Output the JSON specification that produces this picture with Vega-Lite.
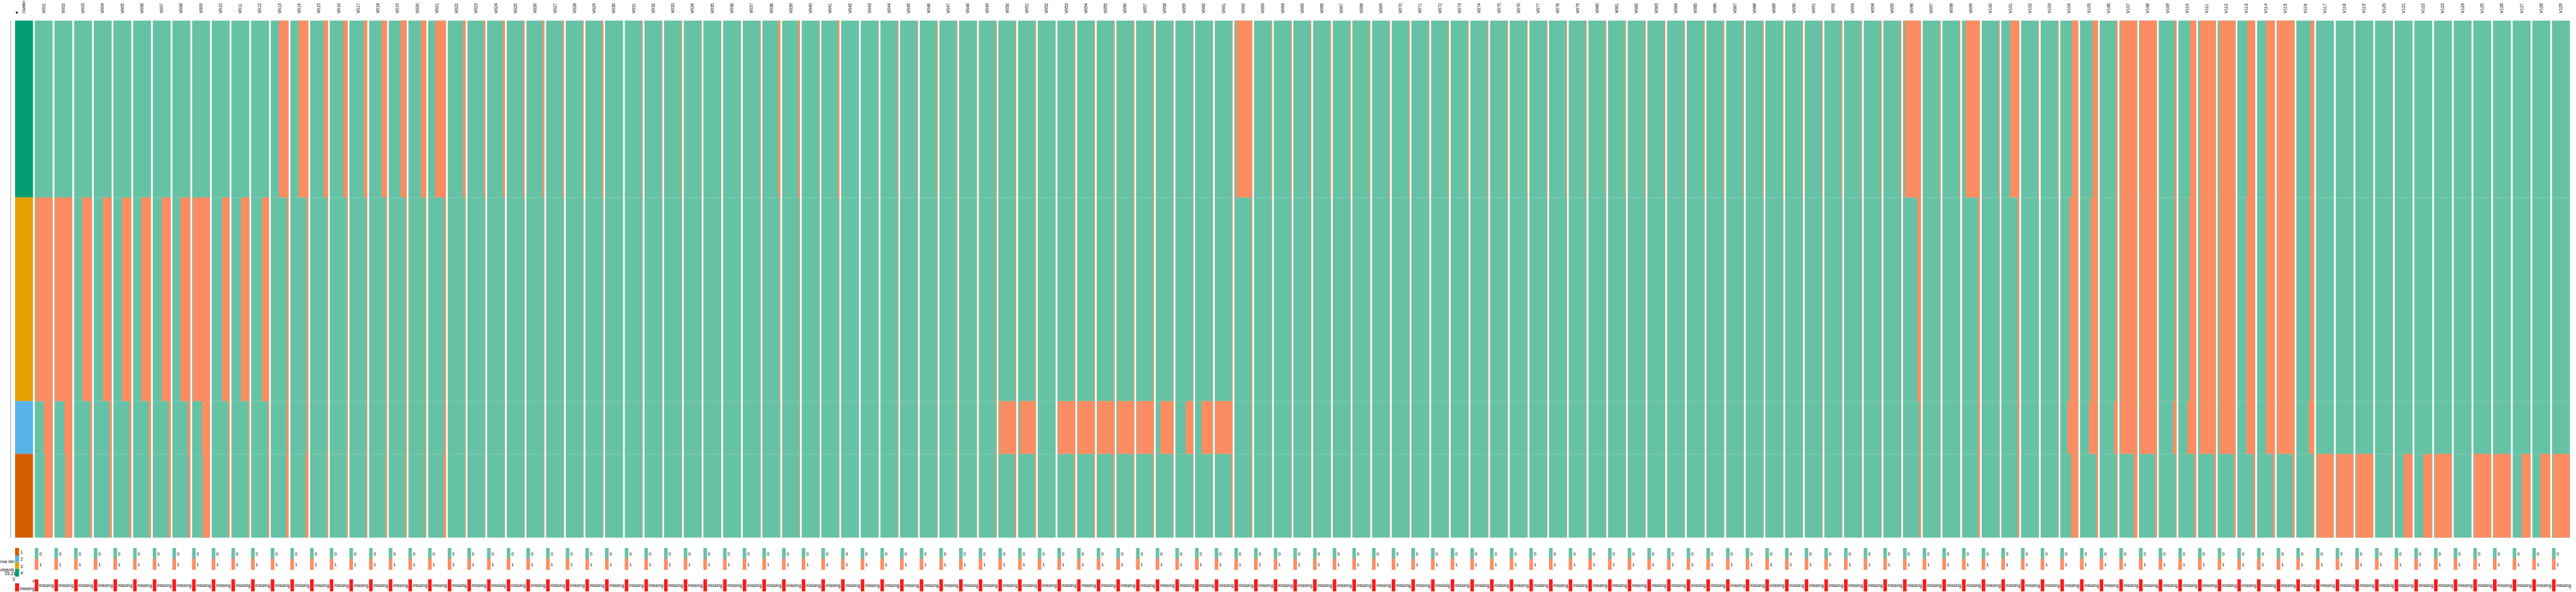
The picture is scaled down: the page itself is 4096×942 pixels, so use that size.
{
"$schema":"https://vega.github.io/schema/vega-lite/v6.json",
"padding":0,
"background":"white",
"bounds":"flush",
"config":{"view":{"stroke":null},"text":{"font":"Liberation Sans","fontSize":7,"color":"#000"}},
"datasets":{
"bounds":[{"c":4,"y0":0,"y1":34.2},{"c":3,"y0":34.2,"y1":73.6},{"c":2,"y0":73.6,"y1":83.8},{"c":1,"y0":83.8,"y1":100}],
"vars":[
{"v":"cluster","i":0,"c":4,"g":1},{"v":"cluster","i":0,"c":3,"g":1},{"v":"cluster","i":0,"c":2,"g":1},{"v":"cluster","i":0,"c":1,"g":1},
{"v":"V001","i":1,"c":4,"g":1},{"v":"V001","i":1,"c":3,"g":0.03},{"v":"V001","i":1,"c":2,"g":0.5},{"v":"V001","i":1,"c":1,"g":0.55},
{"v":"V002","i":2,"c":4,"g":1},{"v":"V002","i":2,"c":3,"g":0.03},{"v":"V002","i":2,"c":2,"g":0.55},{"v":"V002","i":2,"c":1,"g":0.6},
{"v":"V003","i":3,"c":4,"g":1},{"v":"V003","i":3,"c":3,"g":0.45},{"v":"V003","i":3,"c":2,"g":0.9},{"v":"V003","i":3,"c":1,"g":0.9},
{"v":"V004","i":4,"c":4,"g":1},{"v":"V004","i":4,"c":3,"g":0.5},{"v":"V004","i":4,"c":2,"g":0.88},{"v":"V004","i":4,"c":1,"g":0.88},
{"v":"V005","i":5,"c":4,"g":1},{"v":"V005","i":5,"c":3,"g":0.48},{"v":"V005","i":5,"c":2,"g":0.9},{"v":"V005","i":5,"c":1,"g":0.9},
{"v":"V006","i":6,"c":4,"g":1},{"v":"V006","i":6,"c":3,"g":0.45},{"v":"V006","i":6,"c":2,"g":0.88},{"v":"V006","i":6,"c":1,"g":0.9},
{"v":"V007","i":7,"c":4,"g":1},{"v":"V007","i":7,"c":3,"g":0.5},{"v":"V007","i":7,"c":2,"g":0.88},{"v":"V007","i":7,"c":1,"g":0.88},
{"v":"V008","i":8,"c":4,"g":1},{"v":"V008","i":8,"c":3,"g":0.44},{"v":"V008","i":8,"c":2,"g":0.85},{"v":"V008","i":8,"c":1,"g":0.88},
{"v":"V009","i":9,"c":4,"g":1},{"v":"V009","i":9,"c":3,"g":0.04},{"v":"V009","i":9,"c":2,"g":0.55},{"v":"V009","i":9,"c":1,"g":0.58},
{"v":"V010","i":10,"c":4,"g":1},{"v":"V010","i":10,"c":3,"g":0.58},{"v":"V010","i":10,"c":2,"g":0.92},{"v":"V010","i":10,"c":1,"g":0.92},
{"v":"V011","i":11,"c":4,"g":1},{"v":"V011","i":11,"c":3,"g":0.53},{"v":"V011","i":11,"c":2,"g":0.95},{"v":"V011","i":11,"c":1,"g":0.95},
{"v":"V012","i":12,"c":4,"g":1},{"v":"V012","i":12,"c":3,"g":0.6},{"v":"V012","i":12,"c":2,"g":0.93},{"v":"V012","i":12,"c":1,"g":0.93},
{"v":"V013","i":13,"c":4,"g":0.45},{"v":"V013","i":13,"c":3,"g":0.9},{"v":"V013","i":13,"c":2,"g":0.88},{"v":"V013","i":13,"c":1,"g":0.85},
{"v":"V014","i":14,"c":4,"g":0.45},{"v":"V014","i":14,"c":3,"g":0.9},{"v":"V014","i":14,"c":2,"g":0.9},{"v":"V014","i":14,"c":1,"g":0.85},
{"v":"V015","i":15,"c":4,"g":0.75},{"v":"V015","i":15,"c":3,"g":0.95},{"v":"V015","i":15,"c":2,"g":0.95},{"v":"V015","i":15,"c":1,"g":0.92},
{"v":"V016","i":16,"c":4,"g":0.75},{"v":"V016","i":16,"c":3,"g":0.95},{"v":"V016","i":16,"c":2,"g":0.95},{"v":"V016","i":16,"c":1,"g":0.94},
{"v":"V017","i":17,"c":4,"g":0.8},{"v":"V017","i":17,"c":3,"g":0.96},{"v":"V017","i":17,"c":2,"g":0.95},{"v":"V017","i":17,"c":1,"g":0.94},
{"v":"V018","i":18,"c":4,"g":0.7},{"v":"V018","i":18,"c":3,"g":0.94},{"v":"V018","i":18,"c":2,"g":0.94},{"v":"V018","i":18,"c":1,"g":0.92},
{"v":"V019","i":19,"c":4,"g":0.65},{"v":"V019","i":19,"c":3,"g":0.94},{"v":"V019","i":19,"c":2,"g":0.94},{"v":"V019","i":19,"c":1,"g":0.92},
{"v":"V020","i":20,"c":4,"g":0.7},{"v":"V020","i":20,"c":3,"g":0.95},{"v":"V020","i":20,"c":2,"g":0.95},{"v":"V020","i":20,"c":1,"g":0.94},
{"v":"V021","i":21,"c":4,"g":0.4},{"v":"V021","i":21,"c":3,"g":0.92},{"v":"V021","i":21,"c":2,"g":0.9},{"v":"V021","i":21,"c":1,"g":0.85},
{"v":"V022","i":22,"c":4,"g":0.85},{"v":"V022","i":22,"c":3,"g":0.97},{"v":"V022","i":22,"c":2,"g":0.97},{"v":"V022","i":22,"c":1,"g":0.96},
{"v":"V023","i":23,"c":4,"g":0.9},{"v":"V023","i":23,"c":3,"g":0.98},{"v":"V023","i":23,"c":2,"g":0.98},{"v":"V023","i":23,"c":1,"g":0.97},
{"v":"V024","i":24,"c":4,"g":0.88},{"v":"V024","i":24,"c":3,"g":0.97},{"v":"V024","i":24,"c":2,"g":0.97},{"v":"V024","i":24,"c":1,"g":0.97},
{"v":"V025","i":25,"c":4,"g":0.92},{"v":"V025","i":25,"c":3,"g":0.98},{"v":"V025","i":25,"c":2,"g":0.98},{"v":"V025","i":25,"c":1,"g":0.98},
{"v":"V026","i":26,"c":4,"g":0.9},{"v":"V026","i":26,"c":3,"g":0.98},{"v":"V026","i":26,"c":2,"g":0.98},{"v":"V026","i":26,"c":1,"g":0.97},
{"v":"V027","i":27,"c":4,"g":0.92},{"v":"V027","i":27,"c":3,"g":0.98},{"v":"V027","i":27,"c":2,"g":0.98},{"v":"V027","i":27,"c":1,"g":0.97},
{"v":"V028","i":28,"c":4,"g":0.94},{"v":"V028","i":28,"c":3,"g":0.98},{"v":"V028","i":28,"c":2,"g":0.98},{"v":"V028","i":28,"c":1,"g":0.98},
{"v":"V029","i":29,"c":4,"g":0.92},{"v":"V029","i":29,"c":3,"g":0.98},{"v":"V029","i":29,"c":2,"g":0.98},{"v":"V029","i":29,"c":1,"g":0.98},
{"v":"V030","i":30,"c":4,"g":1},{"v":"V030","i":30,"c":3,"g":1},{"v":"V030","i":30,"c":2,"g":1},{"v":"V030","i":30,"c":1,"g":1},
{"v":"V031","i":31,"c":4,"g":0.95},{"v":"V031","i":31,"c":3,"g":0.98},{"v":"V031","i":31,"c":2,"g":0.98},{"v":"V031","i":31,"c":1,"g":0.98},
{"v":"V032","i":32,"c":4,"g":0.96},{"v":"V032","i":32,"c":3,"g":0.99},{"v":"V032","i":32,"c":2,"g":0.99},{"v":"V032","i":32,"c":1,"g":0.99},
{"v":"V033","i":33,"c":4,"g":0.95},{"v":"V033","i":33,"c":3,"g":0.98},{"v":"V033","i":33,"c":2,"g":0.98},{"v":"V033","i":33,"c":1,"g":0.98},
{"v":"V034","i":34,"c":4,"g":0.97},{"v":"V034","i":34,"c":3,"g":0.99},{"v":"V034","i":34,"c":2,"g":0.99},{"v":"V034","i":34,"c":1,"g":0.99},
{"v":"V035","i":35,"c":4,"g":0.97},{"v":"V035","i":35,"c":3,"g":0.99},{"v":"V035","i":35,"c":2,"g":0.99},{"v":"V035","i":35,"c":1,"g":0.99},
{"v":"V036","i":36,"c":4,"g":0.98},{"v":"V036","i":36,"c":3,"g":0.99},{"v":"V036","i":36,"c":2,"g":0.99},{"v":"V036","i":36,"c":1,"g":0.99},
{"v":"V037","i":37,"c":4,"g":0.95},{"v":"V037","i":37,"c":3,"g":0.98},{"v":"V037","i":37,"c":2,"g":0.98},{"v":"V037","i":37,"c":1,"g":0.98},
{"v":"V038","i":38,"c":4,"g":0.88},{"v":"V038","i":38,"c":3,"g":0.96},{"v":"V038","i":38,"c":2,"g":0.97},{"v":"V038","i":38,"c":1,"g":0.97},
{"v":"V039","i":39,"c":4,"g":0.9},{"v":"V039","i":39,"c":3,"g":0.97},{"v":"V039","i":39,"c":2,"g":0.97},{"v":"V039","i":39,"c":1,"g":0.97},
{"v":"V040","i":40,"c":4,"g":0.97},{"v":"V040","i":40,"c":3,"g":0.99},{"v":"V040","i":40,"c":2,"g":0.99},{"v":"V040","i":40,"c":1,"g":0.99},
{"v":"V041","i":41,"c":4,"g":0.9},{"v":"V041","i":41,"c":3,"g":0.97},{"v":"V041","i":41,"c":2,"g":0.98},{"v":"V041","i":41,"c":1,"g":0.97},
{"v":"V042","i":42,"c":4,"g":1},{"v":"V042","i":42,"c":3,"g":1},{"v":"V042","i":42,"c":2,"g":1},{"v":"V042","i":42,"c":1,"g":1},
{"v":"V043","i":43,"c":4,"g":0.98},{"v":"V043","i":43,"c":3,"g":0.99},{"v":"V043","i":43,"c":2,"g":0.99},{"v":"V043","i":43,"c":1,"g":0.99},
{"v":"V044","i":44,"c":4,"g":0.96},{"v":"V044","i":44,"c":3,"g":0.97},{"v":"V044","i":44,"c":2,"g":0.97},{"v":"V044","i":44,"c":1,"g":0.97},
{"v":"V045","i":45,"c":4,"g":0.96},{"v":"V045","i":45,"c":3,"g":0.97},{"v":"V045","i":45,"c":2,"g":0.97},{"v":"V045","i":45,"c":1,"g":0.97},
{"v":"V046","i":46,"c":4,"g":0.95},{"v":"V046","i":46,"c":3,"g":0.97},{"v":"V046","i":46,"c":2,"g":0.97},{"v":"V046","i":46,"c":1,"g":0.97},
{"v":"V047","i":47,"c":4,"g":0.95},{"v":"V047","i":47,"c":3,"g":0.95},{"v":"V047","i":47,"c":2,"g":0.95},{"v":"V047","i":47,"c":1,"g":0.95},
{"v":"V048","i":48,"c":4,"g":0.97},{"v":"V048","i":48,"c":3,"g":0.97},{"v":"V048","i":48,"c":2,"g":0.97},{"v":"V048","i":48,"c":1,"g":0.97},
{"v":"V049","i":49,"c":4,"g":0.95},{"v":"V049","i":49,"c":3,"g":0.95},{"v":"V049","i":49,"c":2,"g":0.95},{"v":"V049","i":49,"c":1,"g":0.95},
{"v":"V050","i":50,"c":4,"g":0.95},{"v":"V050","i":50,"c":3,"g":0.95},{"v":"V050","i":50,"c":2,"g":0.05},{"v":"V050","i":50,"c":1,"g":0.92},
{"v":"V051","i":51,"c":4,"g":0.95},{"v":"V051","i":51,"c":3,"g":0.95},{"v":"V051","i":51,"c":2,"g":0.1},{"v":"V051","i":51,"c":1,"g":0.92},
{"v":"V052","i":52,"c":4,"g":1},{"v":"V052","i":52,"c":3,"g":1},{"v":"V052","i":52,"c":2,"g":1},{"v":"V052","i":52,"c":1,"g":1},
{"v":"V053","i":53,"c":4,"g":0.95},{"v":"V053","i":53,"c":3,"g":0.95},{"v":"V053","i":53,"c":2,"g":0.03},{"v":"V053","i":53,"c":1,"g":0.92},
{"v":"V054","i":54,"c":4,"g":0.95},{"v":"V054","i":54,"c":3,"g":0.95},{"v":"V054","i":54,"c":2,"g":0.03},{"v":"V054","i":54,"c":1,"g":0.93},
{"v":"V055","i":55,"c":4,"g":0.95},{"v":"V055","i":55,"c":3,"g":0.95},{"v":"V055","i":55,"c":2,"g":0.03},{"v":"V055","i":55,"c":1,"g":0.93},
{"v":"V056","i":56,"c":4,"g":0.95},{"v":"V056","i":56,"c":3,"g":0.95},{"v":"V056","i":56,"c":2,"g":0.05},{"v":"V056","i":56,"c":1,"g":0.95},
{"v":"V057","i":57,"c":4,"g":0.95},{"v":"V057","i":57,"c":3,"g":0.95},{"v":"V057","i":57,"c":2,"g":0.03},{"v":"V057","i":57,"c":1,"g":0.95},
{"v":"V058","i":58,"c":4,"g":0.97},{"v":"V058","i":58,"c":3,"g":0.97},{"v":"V058","i":58,"c":2,"g":0.25},{"v":"V058","i":58,"c":1,"g":0.97},
{"v":"V059","i":59,"c":4,"g":0.98},{"v":"V059","i":59,"c":3,"g":0.98},{"v":"V059","i":59,"c":2,"g":0.58},{"v":"V059","i":59,"c":1,"g":0.98},
{"v":"V060","i":60,"c":4,"g":0.98},{"v":"V060","i":60,"c":3,"g":0.98},{"v":"V060","i":60,"c":2,"g":0.36},{"v":"V060","i":60,"c":1,"g":0.98},
{"v":"V061","i":61,"c":4,"g":0.95},{"v":"V061","i":61,"c":3,"g":0.95},{"v":"V061","i":61,"c":2,"g":0.03},{"v":"V061","i":61,"c":1,"g":0.92},
{"v":"V062","i":62,"c":4,"g":0.1},{"v":"V062","i":62,"c":3,"g":0.95},{"v":"V062","i":62,"c":2,"g":0.95},{"v":"V062","i":62,"c":1,"g":0.95},
{"v":"V063","i":63,"c":4,"g":0.95},{"v":"V063","i":63,"c":3,"g":0.98},{"v":"V063","i":63,"c":2,"g":0.98},{"v":"V063","i":63,"c":1,"g":0.98},
{"v":"V064","i":64,"c":4,"g":0.95},{"v":"V064","i":64,"c":3,"g":0.98},{"v":"V064","i":64,"c":2,"g":0.98},{"v":"V064","i":64,"c":1,"g":0.98},
{"v":"V065","i":65,"c":4,"g":0.95},{"v":"V065","i":65,"c":3,"g":0.98},{"v":"V065","i":65,"c":2,"g":0.98},{"v":"V065","i":65,"c":1,"g":0.98},
{"v":"V066","i":66,"c":4,"g":0.95},{"v":"V066","i":66,"c":3,"g":0.98},{"v":"V066","i":66,"c":2,"g":0.98},{"v":"V066","i":66,"c":1,"g":0.98},
{"v":"V067","i":67,"c":4,"g":0.95},{"v":"V067","i":67,"c":3,"g":0.98},{"v":"V067","i":67,"c":2,"g":0.98},{"v":"V067","i":67,"c":1,"g":0.98},
{"v":"V068","i":68,"c":4,"g":0.95},{"v":"V068","i":68,"c":3,"g":0.98},{"v":"V068","i":68,"c":2,"g":0.98},{"v":"V068","i":68,"c":1,"g":0.98},
{"v":"V069","i":69,"c":4,"g":0.95},{"v":"V069","i":69,"c":3,"g":0.98},{"v":"V069","i":69,"c":2,"g":0.98},{"v":"V069","i":69,"c":1,"g":0.98},
{"v":"V070","i":70,"c":4,"g":0.95},{"v":"V070","i":70,"c":3,"g":0.98},{"v":"V070","i":70,"c":2,"g":0.98},{"v":"V070","i":70,"c":1,"g":0.98},
{"v":"V071","i":71,"c":4,"g":0.95},{"v":"V071","i":71,"c":3,"g":0.98},{"v":"V071","i":71,"c":2,"g":0.98},{"v":"V071","i":71,"c":1,"g":0.98},
{"v":"V072","i":72,"c":4,"g":0.95},{"v":"V072","i":72,"c":3,"g":0.98},{"v":"V072","i":72,"c":2,"g":0.98},{"v":"V072","i":72,"c":1,"g":0.98},
{"v":"V073","i":73,"c":4,"g":0.95},{"v":"V073","i":73,"c":3,"g":0.98},{"v":"V073","i":73,"c":2,"g":0.98},{"v":"V073","i":73,"c":1,"g":0.98},
{"v":"V074","i":74,"c":4,"g":0.95},{"v":"V074","i":74,"c":3,"g":0.98},{"v":"V074","i":74,"c":2,"g":0.98},{"v":"V074","i":74,"c":1,"g":0.98},
{"v":"V075","i":75,"c":4,"g":0.95},{"v":"V075","i":75,"c":3,"g":0.98},{"v":"V075","i":75,"c":2,"g":0.98},{"v":"V075","i":75,"c":1,"g":0.98},
{"v":"V076","i":76,"c":4,"g":0.95},{"v":"V076","i":76,"c":3,"g":0.98},{"v":"V076","i":76,"c":2,"g":0.98},{"v":"V076","i":76,"c":1,"g":0.98},
{"v":"V077","i":77,"c":4,"g":0.95},{"v":"V077","i":77,"c":3,"g":0.98},{"v":"V077","i":77,"c":2,"g":0.98},{"v":"V077","i":77,"c":1,"g":0.98},
{"v":"V078","i":78,"c":4,"g":0.95},{"v":"V078","i":78,"c":3,"g":0.98},{"v":"V078","i":78,"c":2,"g":0.98},{"v":"V078","i":78,"c":1,"g":0.98},
{"v":"V079","i":79,"c":4,"g":0.95},{"v":"V079","i":79,"c":3,"g":0.98},{"v":"V079","i":79,"c":2,"g":0.98},{"v":"V079","i":79,"c":1,"g":0.98},
{"v":"V080","i":80,"c":4,"g":0.95},{"v":"V080","i":80,"c":3,"g":0.98},{"v":"V080","i":80,"c":2,"g":0.98},{"v":"V080","i":80,"c":1,"g":0.98},
{"v":"V081","i":81,"c":4,"g":0.95},{"v":"V081","i":81,"c":3,"g":0.98},{"v":"V081","i":81,"c":2,"g":0.98},{"v":"V081","i":81,"c":1,"g":0.98},
{"v":"V082","i":82,"c":4,"g":0.95},{"v":"V082","i":82,"c":3,"g":0.98},{"v":"V082","i":82,"c":2,"g":0.98},{"v":"V082","i":82,"c":1,"g":0.98},
{"v":"V083","i":83,"c":4,"g":0.95},{"v":"V083","i":83,"c":3,"g":0.98},{"v":"V083","i":83,"c":2,"g":0.98},{"v":"V083","i":83,"c":1,"g":0.98},
{"v":"V084","i":84,"c":4,"g":0.95},{"v":"V084","i":84,"c":3,"g":0.98},{"v":"V084","i":84,"c":2,"g":0.98},{"v":"V084","i":84,"c":1,"g":0.98},
{"v":"V085","i":85,"c":4,"g":0.95},{"v":"V085","i":85,"c":3,"g":0.98},{"v":"V085","i":85,"c":2,"g":0.98},{"v":"V085","i":85,"c":1,"g":0.98},
{"v":"V086","i":86,"c":4,"g":0.95},{"v":"V086","i":86,"c":3,"g":0.98},{"v":"V086","i":86,"c":2,"g":0.98},{"v":"V086","i":86,"c":1,"g":0.98},
{"v":"V087","i":87,"c":4,"g":0.95},{"v":"V087","i":87,"c":3,"g":0.98},{"v":"V087","i":87,"c":2,"g":0.98},{"v":"V087","i":87,"c":1,"g":0.98},
{"v":"V088","i":88,"c":4,"g":0.95},{"v":"V088","i":88,"c":3,"g":0.98},{"v":"V088","i":88,"c":2,"g":0.98},{"v":"V088","i":88,"c":1,"g":0.98},
{"v":"V089","i":89,"c":4,"g":0.95},{"v":"V089","i":89,"c":3,"g":0.98},{"v":"V089","i":89,"c":2,"g":0.98},{"v":"V089","i":89,"c":1,"g":0.98},
{"v":"V090","i":90,"c":4,"g":0.95},{"v":"V090","i":90,"c":3,"g":0.98},{"v":"V090","i":90,"c":2,"g":0.98},{"v":"V090","i":90,"c":1,"g":0.98},
{"v":"V091","i":91,"c":4,"g":0.95},{"v":"V091","i":91,"c":3,"g":0.98},{"v":"V091","i":91,"c":2,"g":0.98},{"v":"V091","i":91,"c":1,"g":0.98},
{"v":"V092","i":92,"c":4,"g":0.95},{"v":"V092","i":92,"c":3,"g":0.98},{"v":"V092","i":92,"c":2,"g":0.98},{"v":"V092","i":92,"c":1,"g":0.98},
{"v":"V093","i":93,"c":4,"g":0.95},{"v":"V093","i":93,"c":3,"g":0.98},{"v":"V093","i":93,"c":2,"g":0.98},{"v":"V093","i":93,"c":1,"g":0.98},
{"v":"V094","i":94,"c":4,"g":0.95},{"v":"V094","i":94,"c":3,"g":0.98},{"v":"V094","i":94,"c":2,"g":0.98},{"v":"V094","i":94,"c":1,"g":0.98},
{"v":"V095","i":95,"c":4,"g":0.95},{"v":"V095","i":95,"c":3,"g":0.98},{"v":"V095","i":95,"c":2,"g":0.98},{"v":"V095","i":95,"c":1,"g":0.98},
{"v":"V096","i":96,"c":4,"g":0.1},{"v":"V096","i":96,"c":3,"g":0.8},{"v":"V096","i":96,"c":2,"g":0.9},{"v":"V096","i":96,"c":1,"g":0.9},
{"v":"V097","i":97,"c":4,"g":0.95},{"v":"V097","i":97,"c":3,"g":0.98},{"v":"V097","i":97,"c":2,"g":0.98},{"v":"V097","i":97,"c":1,"g":0.98},
{"v":"V098","i":98,"c":4,"g":0.95},{"v":"V098","i":98,"c":3,"g":0.98},{"v":"V098","i":98,"c":2,"g":0.98},{"v":"V098","i":98,"c":1,"g":0.98},
{"v":"V099","i":99,"c":4,"g":0.2},{"v":"V099","i":99,"c":3,"g":0.9},{"v":"V099","i":99,"c":2,"g":0.9},{"v":"V099","i":99,"c":1,"g":0.9},
{"v":"V100","i":100,"c":4,"g":0.95},{"v":"V100","i":100,"c":3,"g":0.98},{"v":"V100","i":100,"c":2,"g":0.98},{"v":"V100","i":100,"c":1,"g":0.98},
{"v":"V101","i":101,"c":4,"g":0.5},{"v":"V101","i":101,"c":3,"g":0.9},{"v":"V101","i":101,"c":2,"g":0.9},{"v":"V101","i":101,"c":1,"g":0.9},
{"v":"V102","i":102,"c":4,"g":0.95},{"v":"V102","i":102,"c":3,"g":0.98},{"v":"V102","i":102,"c":2,"g":0.98},{"v":"V102","i":102,"c":1,"g":0.98},
{"v":"V103","i":103,"c":4,"g":0.95},{"v":"V103","i":103,"c":3,"g":0.98},{"v":"V103","i":103,"c":2,"g":0.98},{"v":"V103","i":103,"c":1,"g":0.98},
{"v":"V104","i":104,"c":4,"g":0.65},{"v":"V104","i":104,"c":3,"g":0.5},{"v":"V104","i":104,"c":2,"g":0.4},{"v":"V104","i":104,"c":1,"g":0.6},
{"v":"V105","i":105,"c":4,"g":0.7},{"v":"V105","i":105,"c":3,"g":0.6},{"v":"V105","i":105,"c":2,"g":0.5},{"v":"V105","i":105,"c":1,"g":0.9},
{"v":"V106","i":106,"c":4,"g":0.9},{"v":"V106","i":106,"c":3,"g":0.9},{"v":"V106","i":106,"c":2,"g":0.8},{"v":"V106","i":106,"c":1,"g":0.95},
{"v":"V107","i":107,"c":4,"g":0.05},{"v":"V107","i":107,"c":3,"g":0.05},{"v":"V107","i":107,"c":2,"g":0.05},{"v":"V107","i":107,"c":1,"g":0.8},
{"v":"V108","i":108,"c":4,"g":0.05},{"v":"V108","i":108,"c":3,"g":0.05},{"v":"V108","i":108,"c":2,"g":0.05},{"v":"V108","i":108,"c":1,"g":0.9},
{"v":"V109","i":109,"c":4,"g":0.9},{"v":"V109","i":109,"c":3,"g":0.9},{"v":"V109","i":109,"c":2,"g":0.8},{"v":"V109","i":109,"c":1,"g":0.95},
{"v":"V110","i":110,"c":4,"g":0.65},{"v":"V110","i":110,"c":3,"g":0.6},{"v":"V110","i":110,"c":2,"g":0.5},{"v":"V110","i":110,"c":1,"g":0.9},
{"v":"V111","i":111,"c":4,"g":0.1},{"v":"V111","i":111,"c":3,"g":0.1},{"v":"V111","i":111,"c":2,"g":0.1},{"v":"V111","i":111,"c":1,"g":0.9},
{"v":"V112","i":112,"c":4,"g":0.1},{"v":"V112","i":112,"c":3,"g":0.1},{"v":"V112","i":112,"c":2,"g":0.1},{"v":"V112","i":112,"c":1,"g":0.9},
{"v":"V113","i":113,"c":4,"g":0.55},{"v":"V113","i":113,"c":3,"g":0.5},{"v":"V113","i":113,"c":2,"g":0.5},{"v":"V113","i":113,"c":1,"g":0.9},
{"v":"V114","i":114,"c":4,"g":0.5},{"v":"V114","i":114,"c":3,"g":0.5},{"v":"V114","i":114,"c":2,"g":0.5},{"v":"V114","i":114,"c":1,"g":0.9},
{"v":"V115","i":115,"c":4,"g":0.02},{"v":"V115","i":115,"c":3,"g":0.02},{"v":"V115","i":115,"c":2,"g":0.02},{"v":"V115","i":115,"c":1,"g":0.9},
{"v":"V116","i":116,"c":4,"g":0.8},{"v":"V116","i":116,"c":3,"g":0.8},{"v":"V116","i":116,"c":2,"g":0.7},{"v":"V116","i":116,"c":1,"g":0.95},
{"v":"V117","i":117,"c":4,"g":1},{"v":"V117","i":117,"c":3,"g":1},{"v":"V117","i":117,"c":2,"g":1},{"v":"V117","i":117,"c":1,"g":0.05},
{"v":"V118","i":118,"c":4,"g":1},{"v":"V118","i":118,"c":3,"g":1},{"v":"V118","i":118,"c":2,"g":1},{"v":"V118","i":118,"c":1,"g":0.05},
{"v":"V119","i":119,"c":4,"g":1},{"v":"V119","i":119,"c":3,"g":1},{"v":"V119","i":119,"c":2,"g":1},{"v":"V119","i":119,"c":1,"g":0.05},
{"v":"V120","i":120,"c":4,"g":0.98},{"v":"V120","i":120,"c":3,"g":0.98},{"v":"V120","i":120,"c":2,"g":0.98},{"v":"V120","i":120,"c":1,"g":0.95},
{"v":"V121","i":121,"c":4,"g":1},{"v":"V121","i":121,"c":3,"g":1},{"v":"V121","i":121,"c":2,"g":1},{"v":"V121","i":121,"c":1,"g":0.5},
{"v":"V122","i":122,"c":4,"g":1},{"v":"V122","i":122,"c":3,"g":1},{"v":"V122","i":122,"c":2,"g":1},{"v":"V122","i":122,"c":1,"g":0.5},
{"v":"V123","i":123,"c":4,"g":1},{"v":"V123","i":123,"c":3,"g":1},{"v":"V123","i":123,"c":2,"g":1},{"v":"V123","i":123,"c":1,"g":0.05},
{"v":"V124","i":124,"c":4,"g":1},{"v":"V124","i":124,"c":3,"g":1},{"v":"V124","i":124,"c":2,"g":1},{"v":"V124","i":124,"c":1,"g":1},
{"v":"V125","i":125,"c":4,"g":1},{"v":"V125","i":125,"c":3,"g":1},{"v":"V125","i":125,"c":2,"g":1},{"v":"V125","i":125,"c":1,"g":0.03},
{"v":"V126","i":126,"c":4,"g":1},{"v":"V126","i":126,"c":3,"g":1},{"v":"V126","i":126,"c":2,"g":1},{"v":"V126","i":126,"c":1,"g":0.03},
{"v":"V127","i":127,"c":4,"g":1},{"v":"V127","i":127,"c":3,"g":1},{"v":"V127","i":127,"c":2,"g":1},{"v":"V127","i":127,"c":1,"g":0.5},
{"v":"V128","i":128,"c":4,"g":1},{"v":"V128","i":128,"c":3,"g":1},{"v":"V128","i":128,"c":2,"g":1},{"v":"V128","i":128,"c":1,"g":0.45},
{"v":"V129","i":129,"c":4,"g":1},{"v":"V129","i":129,"c":3,"g":1},{"v":"V129","i":129,"c":2,"g":1},{"v":"V129","i":129,"c":1,"g":0.05}
]},
"data":{"name":"vars"},
"transform":[{"lookup":"c","from":{"data":{"name":"bounds"},"key":"c","fields":["y0","y1"]}}],
"spacing":2.27,
"facet":{"column":{"field":"v","type":"nominal","sort":{"field":"i","op":"min"},"header":{"title":null,"labels":false}}},
"spec":{
"width":29,
"height":941,
"layer":[
{"transform":[{"filter":"datum.i>0"}],"mark":{"type":"rect","color":"#66C2A5"},
 "encoding":{"x":{"datum":0,"type":"quantitative","scale":{"domain":[0,1.0175],"nice":false,"zero":false},"axis":null},"x2":{"datum":1},
 "y":{"field":"y0","type":"quantitative","scale":{"domain":[-3.986,110.4],"reverse":true,"nice":false,"zero":false},
  "axis":{"values":[0,10,20,30,40,50,60,70,80,90,100],"labelExpr":"datum.value+'%'","title":null,"domain":false,"grid":false,"ticks":true,"tickSize":2,"tickColor":"#000","tickWidth":0.7,"labelFontSize":7,"labelFont":"Liberation Sans","labelColor":"#000","labelPadding":1,"offset":6}},
 "y2":{"field":"y1"}}},
{"transform":[{"filter":"datum.i>0"}],"mark":{"type":"rect","color":"#FC8D62"},
 "encoding":{"x":{"field":"g","type":"quantitative","axis":null},"x2":{"datum":1},"y":{"field":"y0","type":"quantitative","axis":null},"y2":{"field":"y1"}}},
{"transform":[{"filter":"datum.i==0"}],"mark":{"type":"rect"},
 "encoding":{"x":{"datum":0,"type":"quantitative","axis":null},"x2":{"datum":1},"y":{"field":"y0","type":"quantitative","axis":null},"y2":{"field":"y1"},
 "color":{"field":"c","type":"nominal","scale":{"domain":[1,2,3,4],"range":["#D55E00","#56B4E9","#E69F00","#009E73"]},"legend":null}}},
{"transform":[{"filter":"datum.c==4"}],"mark":{"type":"text","angle":270,"align":"left","baseline":"middle","fontSize":7},
 "encoding":{"text":{"field":"v","type":"nominal"},"x":{"datum":0.5,"type":"quantitative","axis":null},"y":{"datum":-1.39,"type":"quantitative","axis":null}}},
{"transform":[{"filter":"datum.i==0 && datum.c==4"}],"mark":{"type":"point","shape":"triangle-down","filled":true,"color":"#000","size":18,"opacity":1},
 "encoding":{"x":{"datum":0.1,"type":"quantitative","axis":null},"y":{"datum":-1.47,"type":"quantitative","axis":null}}},
{"transform":[{"filter":"datum.i==0 && datum.c==4"}],"mark":{"type":"rule","color":"#000","strokeWidth":0.8,"strokeDash":[1,1]},
 "encoding":{"x":{"datum":-0.25,"type":"quantitative","axis":null},"y":{"datum":0,"type":"quantitative","axis":null},"y2":{"datum":100}}},
{"transform":[{"filter":"datum.i>0 && datum.c==4"}],"mark":{"type":"rect","color":"#66C2A5"},
 "encoding":{"x":{"datum":0,"type":"quantitative","axis":null},"x2":{"datum":0.2},"y":{"datum":102.0,"type":"quantitative","axis":null},"y2":{"datum":104.07}}},
{"transform":[{"filter":"datum.i>0 && datum.c==4"}],"mark":{"type":"rect","color":"#FC8D62"},
 "encoding":{"x":{"datum":0,"type":"quantitative","axis":null},"x2":{"datum":0.2},"y":{"datum":104.07,"type":"quantitative","axis":null},"y2":{"datum":106.24}}},
{"transform":[{"filter":"datum.i>0 && datum.c==4"}],"mark":{"type":"rect","color":"#F81B1B"},
 "encoding":{"x":{"datum":0,"type":"quantitative","axis":null},"x2":{"datum":0.2},"y":{"datum":108.06,"type":"quantitative","axis":null},"y2":{"datum":110.4}}},
{"transform":[{"filter":"datum.i>0 && datum.c==4"}],"mark":{"type":"text","text":"0","align":"left","baseline":"middle"},
 "encoding":{"x":{"datum":0.25,"type":"quantitative","axis":null},"y":{"datum":103.2,"type":"quantitative","axis":null}}},
{"transform":[{"filter":"datum.i>0 && datum.c==4"}],"mark":{"type":"text","text":"1","align":"left","baseline":"middle"},
 "encoding":{"x":{"datum":0.25,"type":"quantitative","axis":null},"y":{"datum":105.29,"type":"quantitative","axis":null}}},
{"transform":[{"filter":"datum.i>0 && datum.c==4"}],"mark":{"type":"text","text":"missing","align":"left","baseline":"middle"},
 "encoding":{"x":{"datum":0.23,"type":"quantitative","axis":null},"y":{"datum":109.36,"type":"quantitative","axis":null}}},
{"transform":[{"filter":"datum.i==0 && datum.c==4"}],"mark":{"type":"text","text":"row bin","align":"left","baseline":"middle"},
 "encoding":{"x":{"datum":-0.83,"type":"quantitative","axis":null},"y":{"datum":104.68,"type":"quantitative","axis":null}}},
{"transform":[{"filter":"datum.i==0 && datum.c==4"}],"mark":{"type":"text","text":"objects","align":"left","baseline":"middle"},
 "encoding":{"x":{"datum":-0.83,"type":"quantitative","axis":null},"y":{"datum":106.24,"type":"quantitative","axis":null}}},
{"transform":[{"filter":"datum.i==0 && datum.c==4"}],"mark":{"type":"text","text":"15,21","align":"left","baseline":"middle"},
 "encoding":{"x":{"datum":-0.58,"type":"quantitative","axis":null},"y":{"datum":107.0,"type":"quantitative","axis":null}}},
{"transform":[{"filter":"datum.i==0 && datum.c==4"}],"mark":{"type":"text","text":"3","align":"center","baseline":"middle"},
 "encoding":{"x":{"datum":-0.08,"type":"quantitative","axis":null},"y":{"datum":108.15,"type":"quantitative","axis":null}}},
{"transform":[{"filter":"datum.i==0 && datum.c==4"}],"mark":{"type":"text","text":"ir","align":"left","baseline":"middle"},
 "encoding":{"x":{"datum":0.97,"type":"quantitative","axis":null},"y":{"datum":108.4,"type":"quantitative","axis":null}}},
{"transform":[{"filter":"datum.i==0 && datum.c==4"}],"mark":{"type":"rect","color":"#D55E00"},
 "encoding":{"x":{"datum":0,"type":"quantitative","axis":null},"x2":{"datum":0.225},"y":{"datum":102.0,"type":"quantitative","axis":null},"y2":{"datum":103.47}}},
{"transform":[{"filter":"datum.i==0 && datum.c==4"}],"mark":{"type":"rect","color":"#56B4E9"},
 "encoding":{"x":{"datum":0,"type":"quantitative","axis":null},"x2":{"datum":0.225},"y":{"datum":103.47,"type":"quantitative","axis":null},"y2":{"datum":104.77}}},
{"transform":[{"filter":"datum.i==0 && datum.c==4"}],"mark":{"type":"rect","color":"#E69F00"},
 "encoding":{"x":{"datum":0,"type":"quantitative","axis":null},"x2":{"datum":0.225},"y":{"datum":104.77,"type":"quantitative","axis":null},"y2":{"datum":106.07}}},
{"transform":[{"filter":"datum.i==0 && datum.c==4"}],"mark":{"type":"rect","color":"#009E73"},
 "encoding":{"x":{"datum":0,"type":"quantitative","axis":null},"x2":{"datum":0.225},"y":{"datum":106.07,"type":"quantitative","axis":null},"y2":{"datum":107.54}}},
{"transform":[{"filter":"datum.i==0 && datum.c==4"}],"mark":{"type":"rect","color":"#F81B1B"},
 "encoding":{"x":{"datum":0,"type":"quantitative","axis":null},"x2":{"datum":0.225},"y":{"datum":108.84,"type":"quantitative","axis":null},"y2":{"datum":110.4}}},
{"transform":[{"filter":"datum.i==0 && datum.c==4"}],"mark":{"type":"text","text":"1","align":"left","baseline":"middle"},
 "encoding":{"x":{"datum":0.3,"type":"quantitative","axis":null},"y":{"datum":102.86,"type":"quantitative","axis":null}}},
{"transform":[{"filter":"datum.i==0 && datum.c==4"}],"mark":{"type":"text","text":"2","align":"left","baseline":"middle"},
 "encoding":{"x":{"datum":0.3,"type":"quantitative","axis":null},"y":{"datum":104.25,"type":"quantitative","axis":null}}},
{"transform":[{"filter":"datum.i==0 && datum.c==4"}],"mark":{"type":"text","text":"3","align":"left","baseline":"middle"},
 "encoding":{"x":{"datum":0.3,"type":"quantitative","axis":null},"y":{"datum":105.63,"type":"quantitative","axis":null}}},
{"transform":[{"filter":"datum.i==0 && datum.c==4"}],"mark":{"type":"text","text":"4","align":"left","baseline":"middle"},
 "encoding":{"x":{"datum":0.3,"type":"quantitative","axis":null},"y":{"datum":106.85,"type":"quantitative","axis":null}}},
{"transform":[{"filter":"datum.i==0 && datum.c==4"}],"mark":{"type":"text","text":"missing","align":"left","baseline":"middle"},
 "encoding":{"x":{"datum":0.25,"type":"quantitative","axis":null},"y":{"datum":109.88,"type":"quantitative","axis":null}}}
]}
}
